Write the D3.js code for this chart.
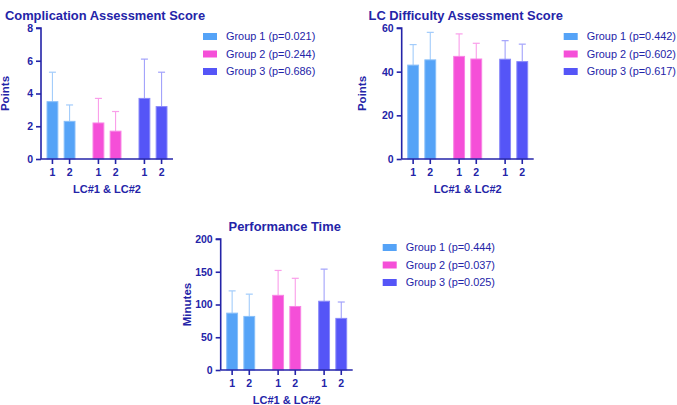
<!DOCTYPE html>
<html lang="en">
<head>
<meta charset="UTF-8">
<title>lc-scores</title>
<style>
  body { margin: 0; background: #fff; }
  text { font-family: "Liberation Sans", Arial, sans-serif; }
</style>
</head>
<body>
<div id="container"></div>
<script src="https://cdn.jsdelivr.net/npm/d3@7"></script>
<script>
// data
var groups = ["Group 1", "Group 2", "Group 3"];
var lcLabels = ["1", "2"];
var colors = ["#55a3f7", "#f54fd8", "#5555f7"];

var compMean = [3.5, 2.3, 2.2, 1.7, 3.7, 3.2];
var compSD   = [1.8, 1.0, 1.5, 1.2, 2.4, 2.1];
var compP    = ["0.021", "0.244", "0.686"];
var compTicks = [0, 2, 4, 6, 8];

var diffMean = [43.0, 45.4, 47.0, 45.8, 45.7, 44.6];
var diffSD   = [9.4, 12.6, 10.3, 7.2, 8.5, 8.0];
var diffP    = ["0.442", "0.602", "0.617"];
var diffTicks = [0, 20, 40, 60];

var timeMean = [86.8, 81.8, 114, 97, 105, 78.8];
var timeSD   = [34, 34, 38, 43, 49, 25];
var timeP    = ["0.444", "0.037", "0.025"];
var timeTicks = [0, 50, 100, 150, 200];

var ink = "#2424a8";
var W = 677, H = 405;
var pw = 132, ph = 131;

var svg = d3.select("#container").append("svg")
    .attr("width", W).attr("height", H);

function panel(ox, oy, title, yLabel, yLabelOff, mean, sd, pvals, ticks) {
  var g = svg.append("g").attr("transform", "translate(" + ox + "," + oy + ")");

  var y = d3.scaleLinear().domain([0, ticks[ticks.length - 1]]).range([ph, 0]);
  var x0 = d3.scaleBand().domain(groups).range([0, pw]).paddingInner(0.37).paddingOuter(0.12);
  var x1 = d3.scaleBand().domain(lcLabels).range([0, x0.bandwidth()]).paddingInner(0.31);

  var rows = [];
  groups.forEach(function(gr, i) {
    lcLabels.forEach(function(lc, j) {
      rows.push({g: gr, lc: lc, c: colors[i], m: mean[i * 2 + j], s: sd[i * 2 + j]});
    });
  });

  var bars = g.selectAll(".bar").data(rows).enter().append("g")
      .attr("transform", function(d) { return "translate(" + (x0(d.g) + x1(d.lc)) + ",0)"; });

  bars.append("line")
      .attr("x1", x1.bandwidth() / 2).attr("x2", x1.bandwidth() / 2)
      .attr("y1", function(d) { return y(d.m); })
      .attr("y2", function(d) { return y(d.m + d.s); })
      .attr("stroke", function(d) { return d3.interpolateRgb(d.c, "#fff")(0.45); })
      .attr("stroke-width", 1.1);
  bars.append("line")
      .attr("x1", x1.bandwidth() / 2 - 3.5).attr("x2", x1.bandwidth() / 2 + 3.5)
      .attr("y1", function(d) { return y(d.m + d.s); })
      .attr("y2", function(d) { return y(d.m + d.s); })
      .attr("stroke", function(d) { return d3.interpolateRgb(d.c, "#fff")(0.45); })
      .attr("stroke-width", 1.2);

  bars.append("rect")
      .attr("x", 0.5)
      .attr("width", x1.bandwidth() - 1)
      .attr("y", function(d) { return y(d.m); })
      .attr("height", function(d) { return ph - y(d.m); })
      .attr("fill", function(d) { return d.c; })
      .attr("stroke", function(d) { return d3.interpolateRgb(d.c, "#fff")(0.3); })
      .attr("stroke-width", 1);

  // axes
  var ya = g.append("g").call(d3.axisLeft(y).tickValues(ticks).tickSize(5).tickPadding(3));
  var xa = g.append("g").attr("transform", "translate(0," + ph + ")")
      .call(d3.axisBottom(x0).tickSize(0).tickFormat(""));
  [ya, xa].forEach(function(a) {
    a.select(".domain").attr("stroke", ink).attr("stroke-width", 1.6);
    a.selectAll("line").attr("stroke", ink).attr("stroke-width", 1.6);
    a.selectAll("text").attr("fill", ink).attr("font-size", 10.5).attr("font-weight", "bold")
      .style("font-family", "Liberation Sans, Arial, sans-serif");
  });
  xa.select(".domain").attr("d", "M0,0H" + pw);
  ya.select(".domain").attr("d", "M-5,0H0V" + ph);

  // x tick marks and labels under each bar
  rows.forEach(function(d) {
    var cx = x0(d.g) + x1(d.lc) + x1.bandwidth() / 2;
    g.append("line").attr("x1", cx).attr("x2", cx).attr("y1", ph).attr("y2", ph + 5)
        .attr("stroke", ink).attr("stroke-width", 1.6);
    g.append("text").attr("x", cx).attr("y", ph + 17)
        .attr("text-anchor", "middle").attr("font-size", 10.5).attr("font-weight", "bold")
        .attr("fill", ink).text(d.lc);
  });

  g.append("text").attr("x", pw / 2 - 2).attr("y", -8)
      .attr("text-anchor", "middle").attr("font-size", 12.9).attr("font-weight", "bold")
      .attr("fill", ink).text(title);

  g.append("text").attr("x", pw / 2).attr("y", ph + 34)
      .attr("text-anchor", "middle").attr("font-size", 11).attr("font-weight", "bold")
      .attr("fill", ink).text("LC#1 & LC#2");

  g.append("text")
      .attr("transform", "translate(" + (-yLabelOff) + "," + (ph / 2) + ") rotate(-90)")
      .attr("text-anchor", "middle").attr("font-size", 11.5).attr("font-weight", "bold")
      .attr("fill", ink).text(yLabel);

  // legend
  var lg = g.append("g").attr("transform", "translate(162,8.5)");
  var item = lg.selectAll("g").data(groups).enter().append("g")
      .attr("transform", function(d, i) { return "translate(0," + i * 17.5 + ")"; });
  item.append("rect").attr("x", 0).attr("y", -3.5).attr("width", 14).attr("height", 7)
      .attr("fill", function(d, i) { return colors[i]; });
  item.append("text").attr("x", 23).attr("y", 0).attr("dy", "0.35em")
      .attr("font-size", 10.9).attr("fill", ink)
      .text(function(d, i) { return d + " (p=" + pvals[i] + ")"; });
}

panel(41, 28, "Complication Assessment Score", "Points", 32, compMean, compSD, compP, compTicks);
panel(401.7, 28, "LC Difficulty Assessment Score", "Points", 36, diffMean, diffSD, diffP, diffTicks);
panel(220.7, 239, "Performance Time", "Minutes", 29.5, timeMean, timeSD, timeP, timeTicks);
</script>
</body>
</html>
